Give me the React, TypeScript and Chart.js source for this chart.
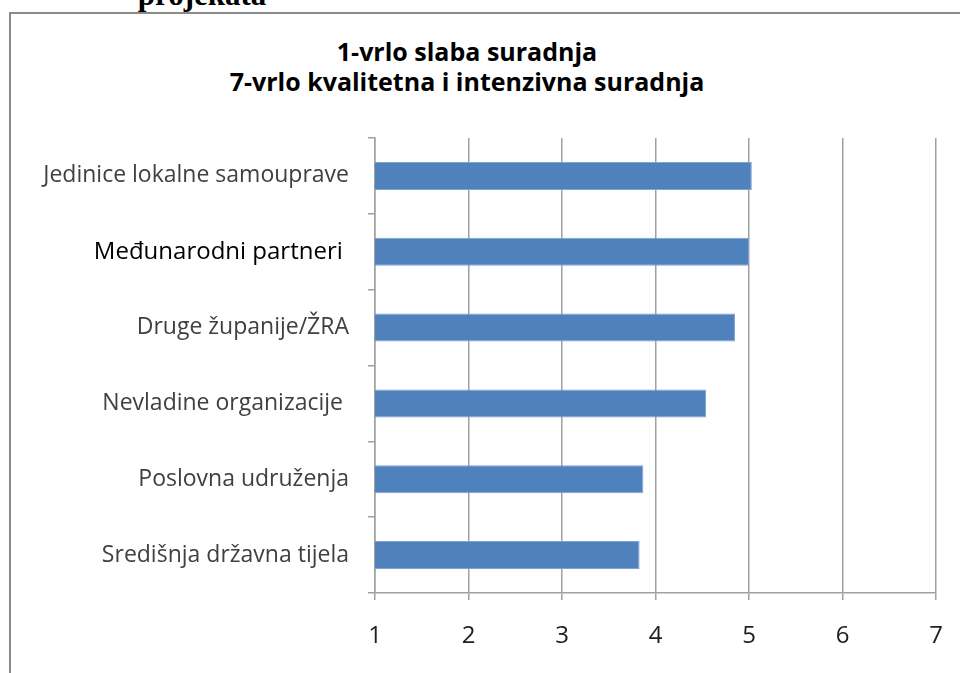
import React, { useEffect, useRef } from "react";
import { Chart, registerables } from "chart.js";

Chart.register(...registerables);

const categories = [
  "Jedinice lokalne samouprave",
  "Međunarodni partneri ",
  "Druge županije/ŽRA",
  "Nevladine organizacije ",
  "Poslovna udruženja",
  "Središnja državna tijela",
];
const values = [5.03, 5.0, 4.85, 4.54, 3.87, 3.83];
const xTicks = [1, 2, 3, 4, 5, 6, 7];
const titleLines = ["1-vrlo slaba suradnja", "7-vrlo kvalitetna i intenzivna suradnja"];
const headingText = "projekata";

const FONT = "'Open Sans', Lato, sans-serif";
const GRID = "#a0a0a0";

export default function App() {
  const ref = useRef<HTMLCanvasElement | null>(null);

  useEffect(() => {
    if (!ref.current) return;
    const chart = new Chart(ref.current, {
      type: "bar",
      data: {
        labels: categories,
        datasets: [
          {
            data: values,
            backgroundColor: "#4f81bd",
            borderColor: "#7ea2d3",
            borderWidth: 1,
            borderSkipped: "left",
            categoryPercentage: 1,
            barPercentage: 0.37,
          },
        ],
      },
      options: {
        indexAxis: "y",
        animation: false,
        responsive: true,
        maintainAspectRatio: false,
        layout: { padding: { left: 0, right: 24, top: 124, bottom: 0 } },
        plugins: {
          legend: { display: false },
          title: { display: false },
          tooltip: { enabled: false },
        },
        scales: {
          x: {
            type: "linear",
            min: xTicks[0],
            max: xTicks[xTicks.length - 1],
            afterFit: (s: any) => {
              s.height = 80;
              s.paddingLeft = 0;
              s.paddingRight = 0;
            },
            afterBuildTicks: (s: any) => {
              s.ticks = xTicks.map((v) => ({ value: v }));
            },
            ticks: {
              stepSize: 1,
              padding: 22,
              color: "#202020",
              font: { family: FONT, size: 24 },
            },
            grid: {
              color: GRID,
              lineWidth: 1.5,
              drawTicks: true,
              tickLength: 7,
              tickColor: GRID,
            },
            border: { display: true, color: GRID, width: 1.5 },
          },
          y: {
            afterFit: (s: any) => {
              s.width = 364;
            },
            ticks: {
              padding: 19,
              color: (ctx: any) => (ctx.index === 1 ? "#000000" : "#404040"),
              font: (ctx: any) => ({ family: FONT, size: ctx.index === 1 ? 24 : 23 }),
            },
            grid: {
              offset: true,
              drawOnChartArea: false,
              drawTicks: true,
              tickLength: 7,
              color: GRID,
              lineWidth: 1.5,
            },
            border: { display: true, color: GRID, width: 1.5 },
          },
        },
      },
    });
    return () => chart.destroy();
  }, []);

  return (
    <div
      style={{
        position: "fixed",
        left: 0,
        top: 0,
        width: 960,
        height: 673,
        overflow: "hidden",
        background: "#ffffff",
      }}
    >
      <div
        style={{
          position: "absolute",
          left: 122,
          top: -21,
          width: 160,
          textAlign: "center",
          fontFamily: "'Liberation Serif', serif",
          fontWeight: "bold",
          fontSize: 31,
          lineHeight: "31px",
          whiteSpace: "nowrap",
          color: "#000",
        }}
      >
        {headingText}
      </div>
      <div
        style={{
          position: "absolute",
          left: 9,
          top: 12,
          width: 1000,
          height: 700,
          border: "2px solid #8a8a8a",
          boxSizing: "border-box",
        }}
      />
      <div
        style={{
          position: "absolute",
          left: 0,
          top: 36,
          width: 934,
          textAlign: "center",
          fontFamily: FONT,
          fontWeight: "bold",
          fontSize: 25,
          lineHeight: "30px",
          color: "#000",
        }}
      >
        {titleLines.map((t) => (
          <div key={t}>{t}</div>
        ))}
      </div>
      <div style={{ position: "absolute", left: 11, top: 14, width: 949, height: 659 }}>
        <canvas ref={ref} />
      </div>
    </div>
  );
}
